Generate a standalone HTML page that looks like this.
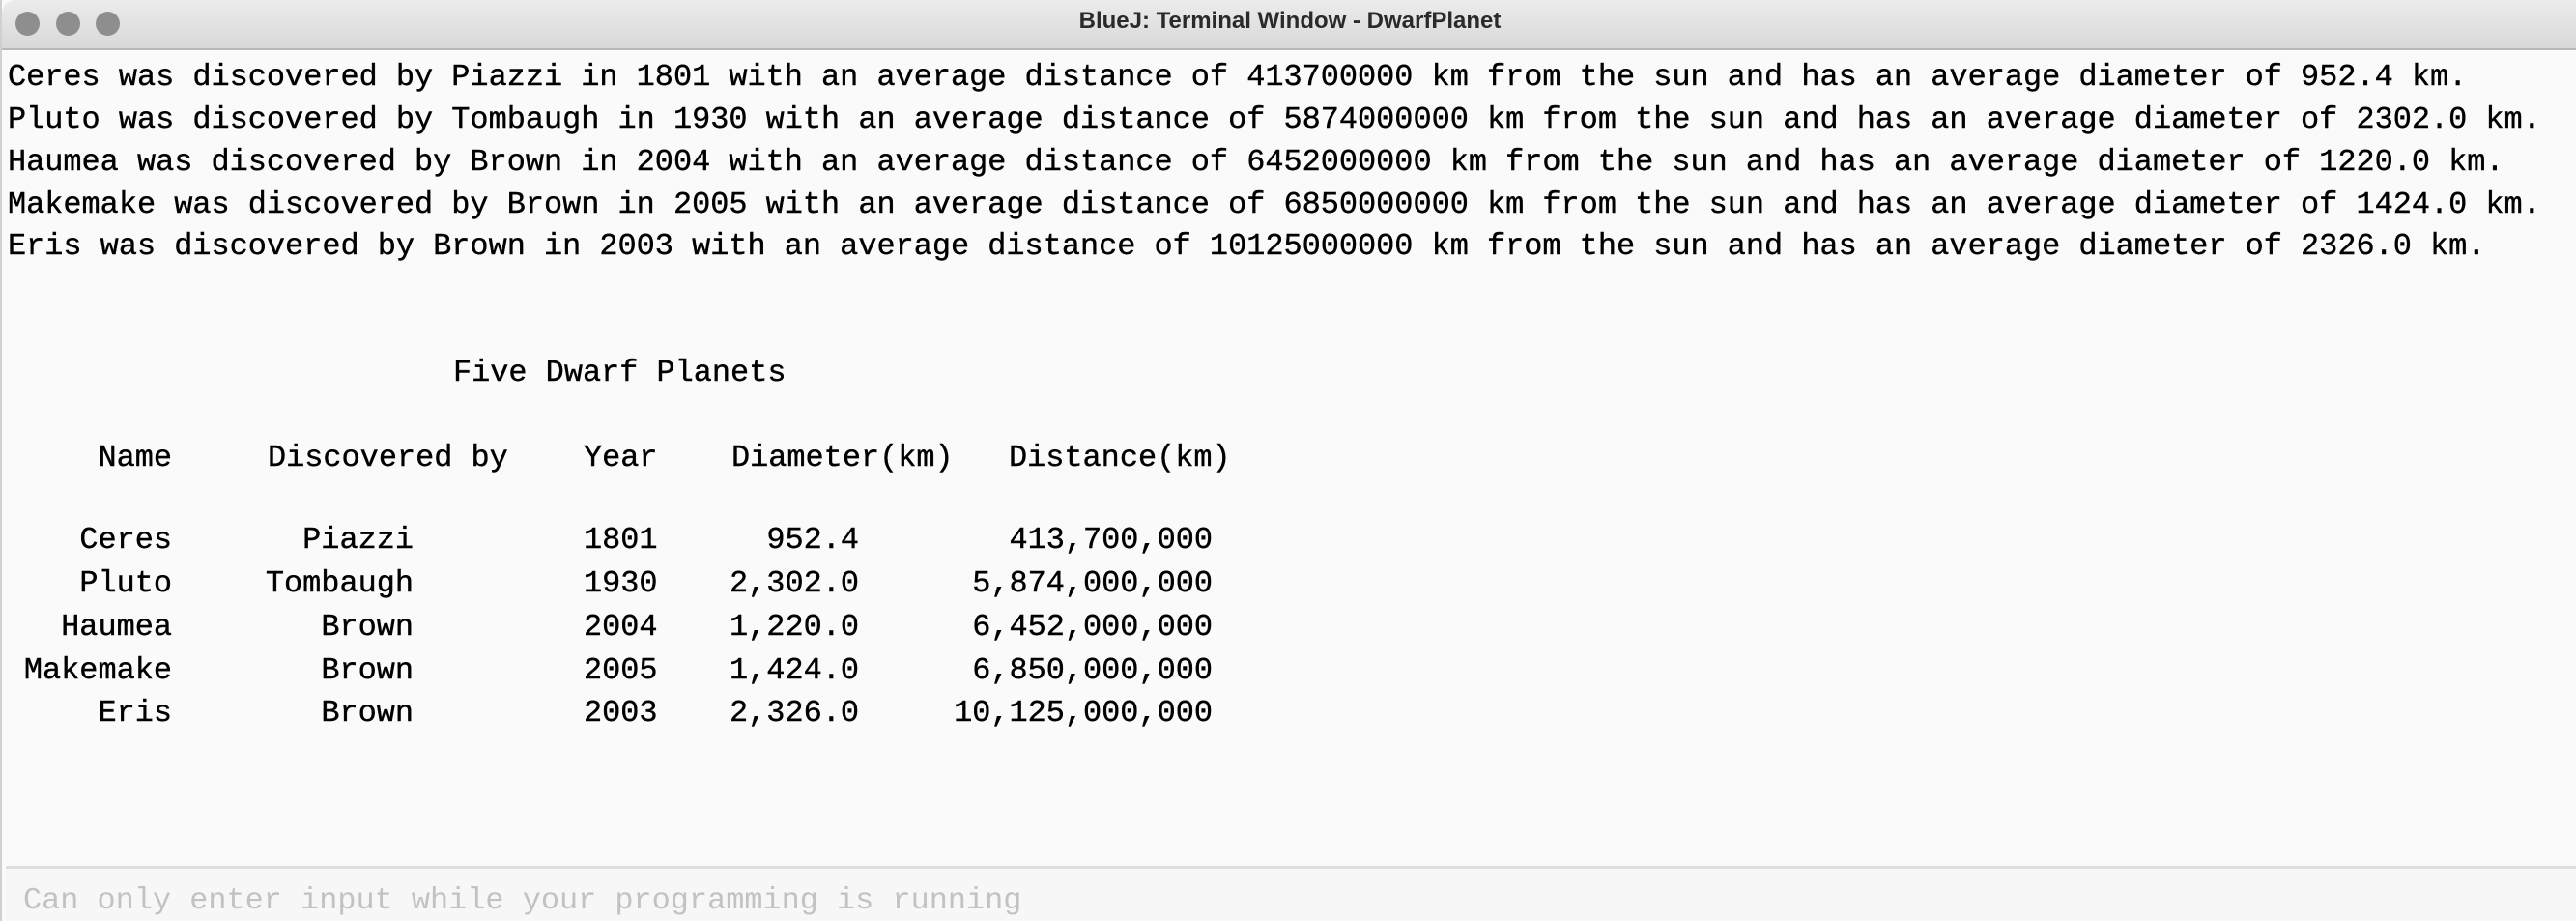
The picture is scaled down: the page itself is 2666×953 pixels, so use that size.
<!DOCTYPE html>
<html><head><meta charset="utf-8"><style>
html,body{margin:0;padding:0;width:2666px;height:953px;overflow:hidden;background:#fafafa;}
#win{position:absolute;left:0;top:0;width:2666px;height:953px;background:#fafafa;border-left:2px solid #d0d0d0;box-sizing:border-box;}
#titlebar{position:absolute;left:0;top:0;width:2666px;height:52px;background:linear-gradient(#ececec,#d8d8d8);border-bottom:2px solid #b8b8b8;box-sizing:border-box;border-top-left-radius:14px;}
.dot{position:absolute;top:12px;width:25px;height:25px;border-radius:50%;background:#8e8e8e;}
#title{position:absolute;top:8px;left:0;width:2666px;text-align:center;line-height:30px;font:bold 24px "Liberation Sans",sans-serif;color:#2a2a2a;}
.t{position:absolute;font-family:"Liberation Mono",monospace;font-size:31.9px;color:#000;white-space:pre;line-height:40px;-webkit-text-stroke:0.4px #000;}
.r{text-align:right;}
#inputbox{position:absolute;left:4px;top:896px;width:2662px;height:57px;border-top:3px solid #dedede;background:#f7f7f7;box-sizing:border-box;}
#ph{position:absolute;left:22px;top:912px;font-family:"Liberation Mono",monospace;font-size:31.9px;color:#c2c2c2;white-space:pre;line-height:40px;}
</style></head><body>
<div id="win">
<div id="titlebar">
<div class="dot" style="left:14px"></div>
<div class="dot" style="left:56px"></div>
<div class="dot" style="left:97px"></div>
<div id="title">BlueJ: Terminal Window - DwarfPlanet</div>
</div>
<div class="t" style="left:6px;top:60px">Ceres was discovered by Piazzi in 1801 with an average distance of 413700000 km from the sun and has an average diameter of 952.4 km.</div>
<div class="t" style="left:6px;top:104px">Pluto was discovered by Tombaugh in 1930 with an average distance of 5874000000 km from the sun and has an average diameter of 2302.0 km.</div>
<div class="t" style="left:6px;top:148px">Haumea was discovered by Brown in 2004 with an average distance of 6452000000 km from the sun and has an average diameter of 1220.0 km.</div>
<div class="t" style="left:6px;top:192px">Makemake was discovered by Brown in 2005 with an average distance of 6850000000 km from the sun and has an average diameter of 1424.0 km.</div>
<div class="t" style="left:6px;top:235px">Eris was discovered by Brown in 2003 with an average distance of 10125000000 km from the sun and has an average diameter of 2326.0 km.</div>

<div class="t" style="left:467px;top:366px">Five Dwarf Planets</div>

<div class="t r" style="right:2488px;top:454px">Name</div>
<div class="t" style="left:275px;top:454px">Discovered by</div>
<div class="t" style="left:602px;top:454px">Year</div>
<div class="t" style="left:755px;top:454px">Diameter(km)</div>
<div class="t" style="left:1042px;top:454px">Distance(km)</div>

<div>
<div class="t r" style="right:2488px;top:539px">Ceres</div><div class="t r" style="right:2238px;top:539px">Piazzi</div><div class="t" style="left:602px;top:539px">1801</div><div class="t r" style="right:1777px;top:539px">952.4</div><div class="t r" style="right:1411px;top:539px">413,700,000</div></div>
<div>
<div class="t r" style="right:2488px;top:584px">Pluto</div><div class="t r" style="right:2238px;top:584px">Tombaugh</div><div class="t" style="left:602px;top:584px">1930</div><div class="t r" style="right:1777px;top:584px">2,302.0</div><div class="t r" style="right:1411px;top:584px">5,874,000,000</div></div>
<div>
<div class="t r" style="right:2488px;top:629px">Haumea</div><div class="t r" style="right:2238px;top:629px">Brown</div><div class="t" style="left:602px;top:629px">2004</div><div class="t r" style="right:1777px;top:629px">1,220.0</div><div class="t r" style="right:1411px;top:629px">6,452,000,000</div></div>
<div>
<div class="t r" style="right:2488px;top:674px">Makemake</div><div class="t r" style="right:2238px;top:674px">Brown</div><div class="t" style="left:602px;top:674px">2005</div><div class="t r" style="right:1777px;top:674px">1,424.0</div><div class="t r" style="right:1411px;top:674px">6,850,000,000</div></div>
<div>
<div class="t r" style="right:2488px;top:718px">Eris</div><div class="t r" style="right:2238px;top:718px">Brown</div><div class="t" style="left:602px;top:718px">2003</div><div class="t r" style="right:1777px;top:718px">2,326.0</div><div class="t r" style="right:1411px;top:718px">10,125,000,000</div></div>

<div id="inputbox"></div>
<div id="ph">Can only enter input while your programming is running</div>
</div>
</body></html>
